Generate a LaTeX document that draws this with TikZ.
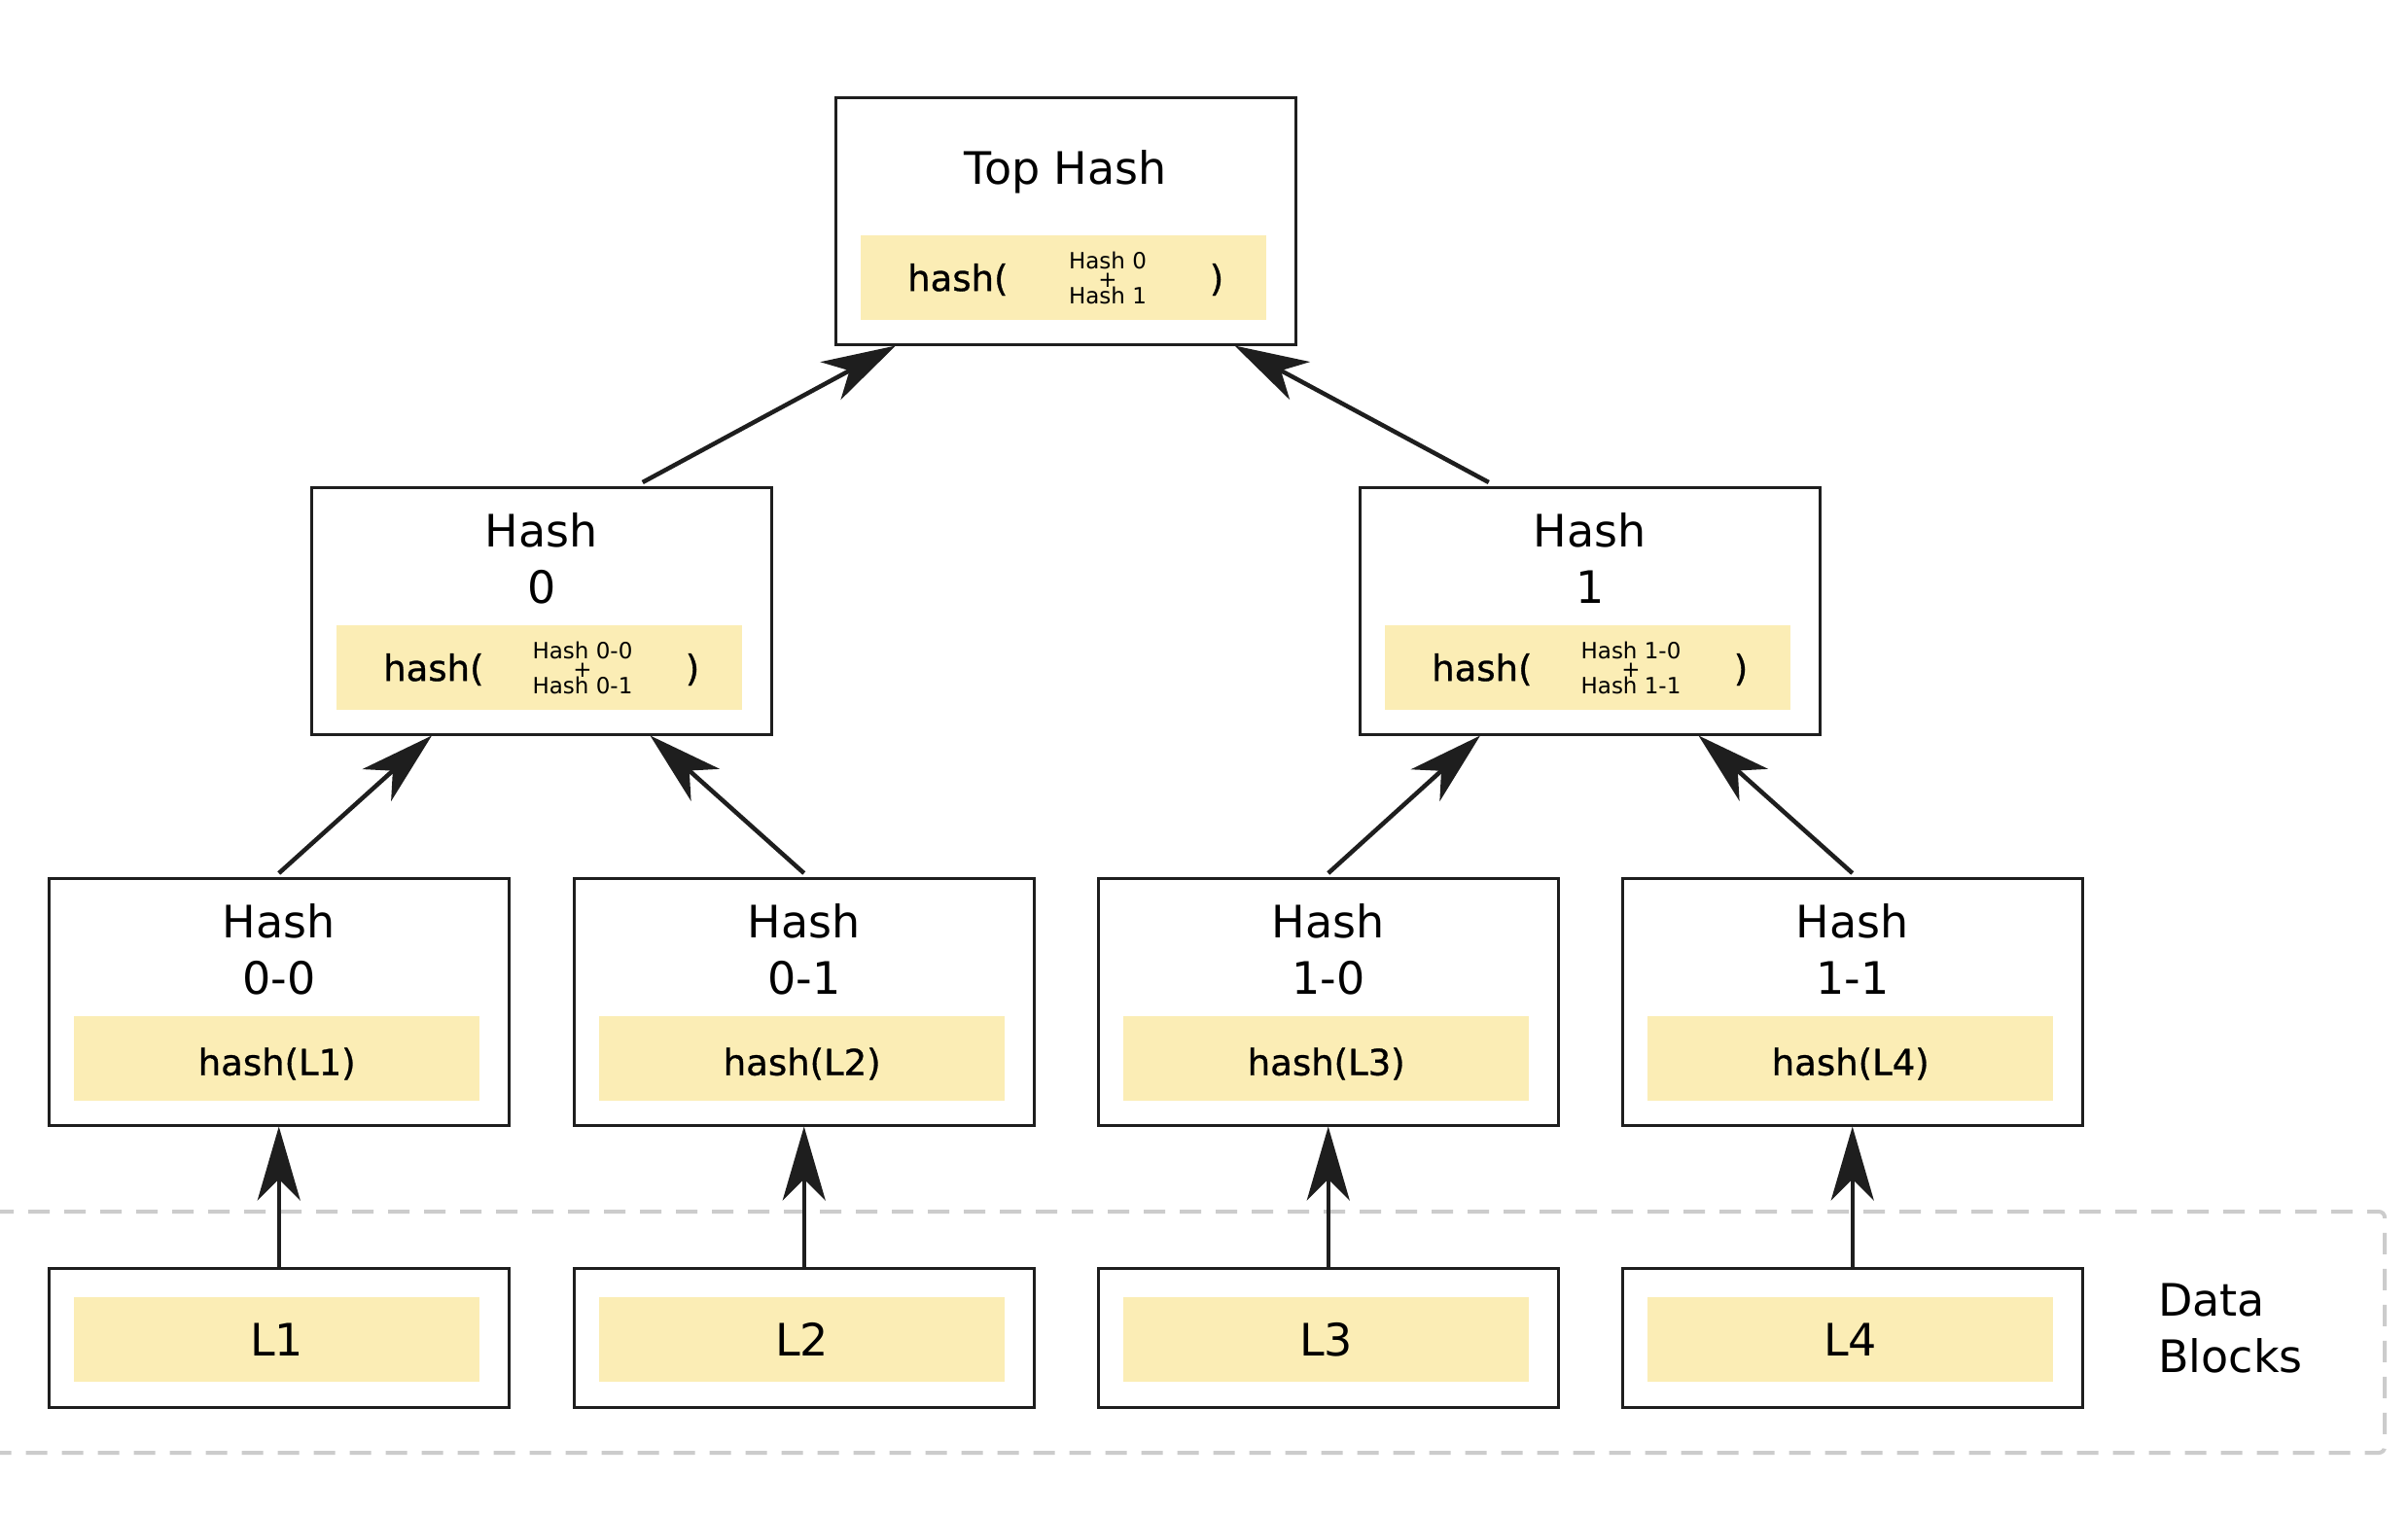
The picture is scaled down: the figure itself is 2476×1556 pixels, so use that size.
\documentclass[tikz,border=0pt]{standalone}
\usepackage{fontspec}
\setmainfont{DejaVu Sans}
\newfontfamily\hashfont[FakeBold=0.8]{DejaVu Sans}
\usetikzlibrary{arrows.meta}
\definecolor{hashfill}{HTML}{FBEDB5}
\definecolor{framegray}{HTML}{CCCCCC}
\definecolor{edgeblack}{HTML}{1E1E1E}
\begin{document}
\begin{tikzpicture}[x=1pt,y=-1pt,
  box/.style={draw=edgeblack, line width=2.5pt, fill=white, inner sep=0pt,
    minimum width=473pt, minimum height=254pt, anchor=north west},
  databox/.style={box, minimum height=143pt},
  strip/.style={fill=hashfill, inner sep=0pt, minimum width=417pt,
    minimum height=87pt, anchor=north west},
  title/.style={inner sep=0pt, font=\fontsize{46}{55}\selectfont},
  mid/.style={inner sep=0pt, font=\hashfont\fontsize{37}{44}\selectfont},
  small/.style={inner sep=0pt, font=\fontsize{23}{27}\selectfont},
  arr/.style={line width=4.5pt, edgeblack,
    -{Stealth[length=76pt,width=44pt,inset=22pt]}},
]
\useasboundingbox (0,0) rectangle (2476,1556);
\fill[white] (0,0) rectangle (2476,1556);

% data block frame
\draw[framegray, line width=4pt, dash pattern=on 22pt off 15pt,
  rounded corners=6pt] (-30,1246) rectangle (2452,1494);
\node[title, anchor=base west] (dataA) at (2219,1353) {Data};
\node[title, anchor=base west] (dataB) at (2219,1411) {Blocks};

% top hash
\node[box] (top) at (858,99) {};
\node[strip] (topS) at ([xshift=27pt,yshift=-143pt]top.north west) {};
\node[title, anchor=base] (topT) at ([yshift=-90pt]top.north) {Top Hash};
\node[mid, anchor=base west] (topF) at ([xshift=48pt,yshift=-13.5pt]topS.west) {hash(};
\node[small, anchor=base] (topA) at ([xshift=254pt,yshift=9.5pt]topS.west) {Hash 0};
\node[small, anchor=base] (topP) at ([xshift=254pt,yshift=-10pt]topS.west) {+};
\node[small, anchor=base] (topB) at ([xshift=254pt,yshift=-26.5pt]topS.west) {Hash 1};
\node[mid, anchor=base] (topC) at ([xshift=366pt,yshift=-13.5pt]topS.west) {)};

% second level
\foreach \nm/\x/\lab in {h0/319/0, h1/1397/1}{
  \node[box] (\nm) at (\x,500) {};
  \node[strip] (\nm S) at ([xshift=27pt,yshift=-143pt]\nm.north west) {};
  \node[title, anchor=base] (\nm T) at ([yshift=-62pt]\nm.north) {Hash};
  \node[title, anchor=base] (\nm U) at ([yshift=-120pt]\nm.north) {\lab};
  \node[mid, anchor=base west] (\nm F) at ([xshift=48pt,yshift=-13.5pt]\nm S.west) {hash(};
  \node[small, anchor=base] (\nm A) at ([xshift=253pt,yshift=9.5pt]\nm S.west) {Hash \lab-0};
  \node[small, anchor=base] (\nm P) at ([xshift=253pt,yshift=-10pt]\nm S.west) {+};
  \node[small, anchor=base] (\nm B) at ([xshift=253pt,yshift=-26.5pt]\nm S.west) {Hash \lab-1};
  \node[mid, anchor=base] (\nm C) at ([xshift=366pt,yshift=-13.5pt]\nm S.west) {)};
}

% leaf hashes and data blocks
\foreach \nm/\x/\lab/\blk in {h00/49/0-0/L1, h01/589/0-1/L2, h10/1128/1-0/L3, h11/1667/1-1/L4}{
  \node[box] (\nm) at (\x,902) {};
  \node[strip] (\nm S) at ([xshift=27pt,yshift=-143pt]\nm.north west) {};
  \node[title, anchor=base] (\nm T) at ([yshift=-62pt]\nm.north) {Hash};
  \node[title, anchor=base] (\nm U) at ([yshift=-120pt]\nm.north) {\lab};
  \node[mid, anchor=base] (\nm F) at ([yshift=-17pt]\nm S.center) {hash(\blk)};
  \node[databox] (\blk) at (\x,1303) {};
  \node[strip] (\blk S) at ([xshift=27pt,yshift=-31pt]\blk.north west) {};
  \node[title] (\blk T) at (\blk S.center) {\blk};
  \draw[arr] ([yshift=-3pt]\blk.north) -- (\nm.south);
}

% links between hash levels
\draw[arr] ([yshift=4pt]h00.north) -- ([xshift=125pt]h0.south west);
\draw[arr] ([yshift=4pt]h01.north) -- ([xshift=-126pt]h0.south east);
\draw[arr] ([yshift=4pt]h10.north) -- ([xshift=125pt]h1.south west);
\draw[arr] ([yshift=4pt]h11.north) -- ([xshift=-126pt]h1.south east);
\draw[arr] ([xshift=104pt,yshift=4pt]h0.north) -- ([xshift=63pt]top.south west);
\draw[arr] ([xshift=-104pt,yshift=4pt]h1.north) -- ([xshift=-64pt]top.south east);
\end{tikzpicture}
\end{document}
